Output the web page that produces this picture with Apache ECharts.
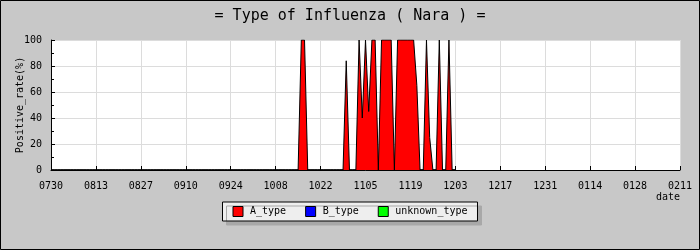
<!DOCTYPE html>
<html>
<head>
<meta charset="utf-8">
<script src="https://cdn.jsdelivr.net/npm/echarts@6/dist/echarts.min.js"></script>
<style>
html,body{margin:0;padding:0;background:#c8c8c8;}
#chart{width:700px;height:250px;}
</style>
</head>
<body>
<div id="chart"></div>
<script>
// Tick labels (every 14 days starting 0730)
var dateTicks = ['0730','0813','0827','0910','0924','1008','1022','1105','1119','1203','1217','1231','0114','0128','0211'];
// Daily positive rate (%) from 0730 (day 0), one row per two weeks
var aType = [
  0,0,0,0,0,0,0,0,0,0,0,0,0,0,
  0,0,0,0,0,0,0,0,0,0,0,0,0,0,
  0,0,0,0,0,0,0,0,0,0,0,0,0,0,
  0,0,0,0,0,0,0,0,0,0,0,0,0,0,
  0,0,0,0,0,0,0,0,0,0,0,0,0,0,
  0,0,0,0,0,0,0,0,100,100,0,0,0,0,
  0,0,0,0,0,0,0,0,84,0,0,0,100,40,
  100,45,100,100,0,100,100,100,100,0,100,100,100,100,
  100,100,65,0,0,100,25,0,0,100,0,0,100,0,
  0
];
var bType = [
  0,0,0,0,0,0,0,0,0,0,0,0,0,0,
  0,0,0,0,0,0,0,0,0,0,0,0,0,0,
  0,0,0,0,0,0,0,0,0,0,0,0,0,0,
  0,0,0,0,0,0,0,0,0,0,0,0,0,0,
  0,0,0,0,0,0,0,0,0,0,0,0,0,0,
  0,0,0,0,0,0,0,0,0,0,0,0,0,0,
  0,0,0,0,0,0,0,0,0,0,0,0,0,0,
  0,0,0,0,0,0,0,0,0,0,0,0,0,0,
  0,0,0,0,0,0,0,0,0,0,0,0,0,0,
  0
];
var unknownType = [
  0,0,0,0,0,0,0,0,0,0,0,0,0,0,
  0,0,0,0,0,0,0,0,0,0,0,0,0,0,
  0,0,0,0,0,0,0,0,0,0,0,0,0,0,
  0,0,0,0,0,0,0,0,0,0,0,0,0,0,
  0,0,0,0,0,0,0,0,0,0,0,0,0,0,
  0,0,0,0,0,0,0,0,0,0,0,0,0,0,
  0,0,0,0,0,0,0,0,0,0,0,0,0,0,
  0,0,0,0,0,0,0,0,0,0,0,0,0,0,
  0,0,0,0,0,0,0,0,0,0,0,0,0,0,
  0
];
var seriesNames = ['A_type','B_type','unknown_type'];
var seriesColors = ['#ff0000','#0000ff','#00ff00'];
var seriesValues = [aType, bType, unknownType];

var FONT = 'DejaVu Sans Mono';
var chart = echarts.init(document.getElementById('chart'), null, {renderer:'canvas'});

function toPairs(arr){ return arr.map(function(v,i){ return [i, v]; }); }

var option = {
  backgroundColor: '#c8c8c8',
  animation: false,
  title: {
    text: '= Type of Influenza ( Nara ) =',
    left: 'center',
    top: 4,
    textStyle: {fontFamily: FONT, fontSize: 15, fontWeight: 'normal', color: '#000'}
  },
  legend: {
    data: seriesNames,
    left: 'center',
    top: 202,
    icon: 'rect',
    itemWidth: 10,
    itemHeight: 10,
    itemGap: 19,
    padding: [4, 10, 4, 10],
    backgroundColor: '#eeeeee',
    borderColor: '#000',
    borderWidth: 1,
    borderRadius: 0,
    shadowColor: '#a8a8a8',
    shadowBlur: 0,
    shadowOffsetX: 4,
    shadowOffsetY: 4,
    itemStyle: {borderColor: '#000', borderWidth: 1},
    textStyle: {fontFamily: FONT, fontSize: 10, color: '#000', padding: [0,0,0,2]}
  },
  grid: {
    left: 51, right: 20, top: 40, bottom: 80,
    containLabel: false,
    outerBoundsMode: 'none',
    show: true, backgroundColor: '#ffffff', borderWidth: 0
  },
  xAxis: {
    type: 'value',
    min: 0,
    max: (dateTicks.length - 1) * 14,
    interval: 14,
    name: 'date',
    nameLocation: 'end',
    nameGap: 0,
    nameMoveOverlap: false,
    nameTextStyle: {fontFamily: FONT, fontSize: 10, color: '#000', align: 'right', verticalAlign: 'top', padding: [22,0,0,0]},
    axisLine: {lineStyle: {color: '#000', width: 1}},
    axisTick: {inside: true, length: 4, lineStyle: {color: '#000'}},
    axisLabel: {
      fontFamily: FONT, fontSize: 10, color: '#000', margin: 11,
      formatter: function(v){ return dateTicks[Math.round(v/14)] || ''; }
    },
    splitLine: {show: true, lineStyle: {color: '#dcdcdc', width: 1}}
  },
  yAxis: {
    type: 'value',
    min: 0, max: 100, interval: 20,
    name: 'Positive_rate(%)',
    nameLocation: 'middle',
    nameGap: 26,
    nameMoveOverlap: false,
    nameTextStyle: {fontFamily: FONT, fontSize: 10, color: '#000'},
    axisLine: {show: true, lineStyle: {color: '#000', width: 1}},
    axisTick: {show: true, inside: true, length: 4, lineStyle: {color: '#000'}},
    minorTick: {show: true, splitNumber: 2, length: 3, lineStyle: {color: '#000'}},
    axisLabel: {fontFamily: FONT, fontSize: 10, color: '#000', margin: 9},
    splitLine: {show: true, lineStyle: {color: '#dcdcdc', width: 1}}
  },
  series: seriesNames.map(function(name, i){
    return {
      name: name,
      type: 'line',
      symbol: 'none',
      smooth: false,
      z: 2 - i,
      data: toPairs(seriesValues[i]),
      itemStyle: {color: seriesColors[i], borderColor: '#000', borderWidth: 1},
      lineStyle: {color: '#000', width: 1},
      areaStyle: {color: seriesColors[i], opacity: 1}
    };
  }),
  graphic: [{
    type: 'rect',
    silent: true,
    z: 100,
    shape: {x: 0.5, y: 0.5, width: 699, height: 249},
    style: {fill: 'none', stroke: '#000', lineWidth: 1}
  }]
};
chart.setOption(option);
</script>
</body>
</html>
